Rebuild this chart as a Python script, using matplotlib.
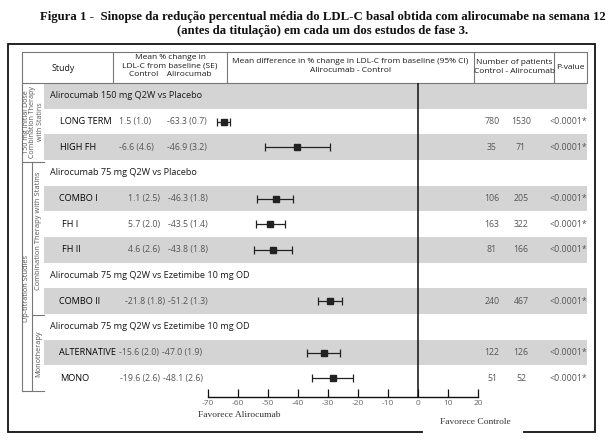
import matplotlib
matplotlib.use("Agg")
import matplotlib.pyplot as plt

plt.rcParams['axes.unicode_minus'] = False
plt.rcParams['font.family'] = ['Open Sans', 'DejaVu Sans']

# ---------------- data ----------------
title_line1 = "Figura 1 -  Sinopse da redução percentual média do LDL-C basal obtida com alirocumabe na semana 12"
title_line2 = "(antes da titulação) em cada um dos estudos de fase 3."

groups = ["Alirocumab 150 mg Q2W vs Placebo",
          "Alirocumab 75 mg Q2W vs Placebo",
          "Alirocumab 75 mg Q2W vs Ezetimibe 10 mg OD",
          "Alirocumab 75 mg Q2W vs Ezetimibe 10 mg OD"]
studies = ["LONG TERM", "HIGH FH", "COMBO I", "FH I", "FH II", "COMBO II", "ALTERNATIVE", "MONO"]
study_group = [0, 0, 1, 1, 1, 2, 3, 3]
control_txt = ["1.5 (1.0)", "-6.6 (4.6)", "1.1 (2.5)", "5.7 (2.0)", "4.6 (2.6)", "-21.8 (1.8)", "-15.6 (2.0)", "-19.6 (2.6)"]
aliro_txt = ["-63.3 (0.7)", "-46.9 (3.2)", "-46.3 (1.8)", "-43.5 (1.4)", "-43.8 (1.8)", "-51.2 (1.3)", "-47.0 (1.9)", "-48.1 (2.6)"]
mean_diff = [-64.8, -40.3, -47.4, -49.2, -48.4, -29.4, -31.4, -28.5]
ci_low = [-67.0, -51.0, -53.7, -54.0, -54.6, -33.4, -36.9, -35.4]
ci_high = [-62.6, -29.5, -41.6, -44.3, -42.0, -25.4, -26.1, -21.7]
n_control = [780, 35, 106, 163, 81, 240, 122, 51]
n_aliro = [1530, 71, 205, 322, 166, 467, 126, 52]
p_values = ["<0.0001*"] * 8
xticks = [-70, -60, -50, -40, -30, -20, -10, 0, 10, 20]

# ---------------- layout ----------------
W, H = 615, 443
fig = plt.figure(figsize=(W / 100, H / 100), dpi=100)
tab = fig.add_axes([0, 0, 1, 1])
tab.set_xlim(0, W)
tab.set_ylim(H, 0)
tab.axis('off')
renderer = fig.canvas.get_renderer()

top_rows = 83.0
row_h = (391.0 - 83.0) / 12
axis_y = 397.0
zero_px = 418.0
px_per_unit = 3.0
# per-row preferred left edges of the text columns (layout only)
name_x = [60, 60, 59, 62, 62, 59, 59, 60]
ctrl_x = [119, 119, 128, 128, 128, 125, 114, 120]
aliro_x = [167, 167, 168, 168, 168, 160, 148, 155]

rows = []
last_g = None
for i, g in enumerate(study_group):
    if g != last_g:
        rows.append(('group', g))
        last_g = g
    rows.append(('study', i))

def ry(r):
    return top_rows + row_h * (r + 0.5)

def right_px(t):
    return t.get_window_extent(renderer).x1

dark = '#1a1a1a'
mid = '#555555'
band = '#d4d4d4'
vfs = 6.3

for r in range(len(rows)):
    if r % 2 == 0:
        tab.add_patch(plt.Rectangle((44, top_rows + r * row_h), 587 - 44, row_h,
                                    facecolor=band, edgecolor='none', zorder=0))

study_row = {}
for r, (kind, idx) in enumerate(rows):
    y = ry(r)
    if kind == 'group':
        tab.text(50, y, groups[idx], fontsize=6.6, color=dark, va='center', ha='left')
    else:
        study_row[idx] = r
        tn = tab.text(name_x[idx], y, studies[idx], fontsize=6.6, color='#050505', va='center',
                      ha='left')
        cx = max(ctrl_x[idx], right_px(tn) + 3)
        tc = tab.text(cx, y, control_txt[idx], fontsize=vfs, color=mid, va='center', ha='left')
        ax_ = max(aliro_x[idx], right_px(tc) + 3)
        tab.text(ax_, y, aliro_txt[idx], fontsize=vfs, color=mid, va='center', ha='left')
        tab.text(492, y, str(n_control[idx]), fontsize=vfs, color=mid, va='center', ha='center')
        tab.text(521, y, str(n_aliro[idx]), fontsize=vfs, color=mid, va='center', ha='center')
        tab.text(587, y, p_values[idx], fontsize=vfs, color=mid, va='center', ha='right')

# header
lc = '#777777'
tab.plot([22, 587, 587, 22, 22], [52, 52, 83, 83, 52], color=lc, lw=0.8)
for xd in [113, 227, 474, 554]:
    tab.plot([xd, xd], [52, 83], color=lc, lw=0.8)
tab.text(52, 68, "Study", fontsize=6.4, color=dark, va='center', ha='left')
tab.text(170, 57, "Mean % change in", fontsize=6.0, color=dark, va='center', ha='center')
tab.text(170, 65.5, "LDL-C from baseline (SE)", fontsize=6.0, color=dark, va='center', ha='center')
tab.text(170, 74, "Control    Alirocumab", fontsize=6.0, color=dark, va='center', ha='center')
tab.text(350, 61.5, "Mean difference in % change in LDL-C from baseline (95% CI)", fontsize=6.0,
         color=dark, va='center', ha='center')
tab.text(350, 70.5, "Alirocumab - Control", fontsize=6.0, color=dark, va='center', ha='center')
tab.text(514, 62, "Number of patients", fontsize=6.0, color=dark, va='center', ha='center')
tab.text(514, 71.5, "Control - Alirocumab", fontsize=6.0, color=dark, va='center', ha='center')
tab.text(570, 67.5, "P-value", fontsize=6.0, color=dark, va='center', ha='center')

# left section lines and labels
tab.plot([22, 22], [83, 391], color=lc, lw=0.8)
tab.plot([32, 32], [162, 391], color=lc, lw=0.8)
tab.plot([22, 44], [162, 162], color=lc, lw=0.8)
tab.plot([32, 44], [315, 315], color=lc, lw=0.8)
tab.plot([22, 44], [391, 391], color=lc, lw=0.8)
tab.text(33, 122, "150 mg Initial Dose\nCombination Therapy\nwith Statins", fontsize=5.1,
         color=mid, rotation=90, va='center', ha='center', linespacing=1.0)
tab.text(27, 288, "Up-titration Studies", fontsize=5.3, color=mid, rotation=90,
         va='center', ha='center')
tab.text(38.5, 231, "Combination Therapy with Statins", fontsize=5.4, color=mid, rotation=90,
         va='center', ha='center')
tab.text(38.5, 354, "Monotherapy", fontsize=5.3, color=mid, rotation=90,
         va='center', ha='center')

# outer border
bc = '#111111'
tab.plot([422, 8, 8, 595, 595, 524], [432, 432, 44, 44, 432, 432], color=bc, lw=1.3,
         solid_joinstyle='miter')

# title
tab.text(323, 17, title_line1, fontsize=9.2, fontweight='bold', family='Liberation Serif',
         ha='center', va='center', color='#111111')
tab.text(323, 31, title_line2, fontsize=9.2, fontweight='bold', family='Liberation Serif',
         ha='center', va='center', color='#111111')

tab.text(198, 415, "Favorece Alirocumab", fontsize=6.8, family='Liberation Serif',
         ha='left', va='center', color='#333333')
tab.text(440, 422, "Favorece Controle", fontsize=6.8, family='Liberation Serif',
         ha='left', va='center', color='#333333')

# ---------------- forest axes ----------------
fx0, fx1 = 195.0, 485.0
fa = fig.add_axes([fx0 / W, (H - axis_y) / H, (fx1 - fx0) / W, (axis_y - top_rows) / H])
fa.patch.set_alpha(0)
fa.set_xlim((fx0 - zero_px) / px_per_unit, (fx1 - zero_px) / px_per_unit)
fa.set_ylim((axis_y - top_rows) / row_h, 0)
for s in ['top', 'left', 'right']:
    fa.spines[s].set_visible(False)
fa.spines['bottom'].set_bounds(xticks[0], xticks[-1])
fa.spines['bottom'].set_color(bc)
fa.spines['bottom'].set_linewidth(1.0)
fa.set_yticks([])
fa.set_xticks(xticks)
fa.set_xticklabels([str(t) for t in xticks])
fa.tick_params(axis='x', direction='in', length=5.5, width=0.9, color=bc,
               labelsize=6.0, labelcolor='#666666', pad=2.5)
fa.axvline(0, color=bc, lw=1.1)

ys = [study_row[i] + 0.5 for i in range(len(studies))]
xerr = [[m - lo for m, lo in zip(mean_diff, ci_low)], [hi - m for m, hi in zip(mean_diff, ci_high)]]
fa.errorbar(mean_diff, ys, xerr=xerr, fmt='s', color='#222222', ms=4.2, elinewidth=0.9,
            capsize=2.6, capthick=0.9, clip_on=False)

fig.savefig("out.png", dpi=100)
